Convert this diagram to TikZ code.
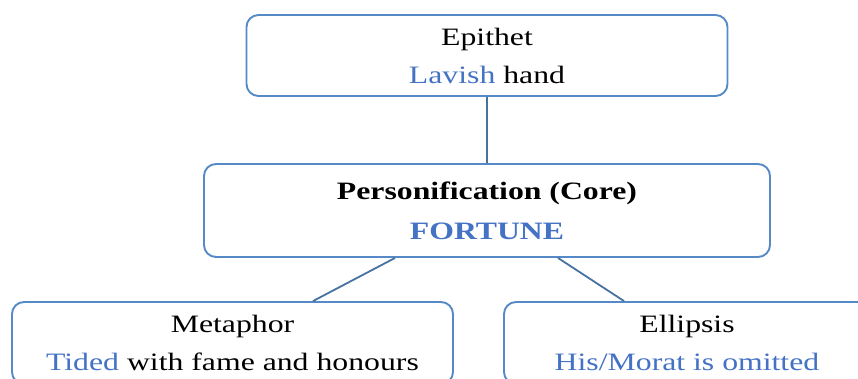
\documentclass[tikz,border=0pt]{standalone}
\usepackage{fontspec}
\setmainfont[FakeStretch=1.27]{Liberation Serif}
\definecolor{boxline}{RGB}{86,138,198}
\definecolor{linkline}{RGB}{70,114,160}
\definecolor{wordblue}{RGB}{68,114,196}
\begin{document}
\begin{tikzpicture}[
    x=1pt, y=-1pt,
    every node/.style={font=\fontsize{25}{38}\selectfont, align=center},
    device/.style={draw=boxline, line width=1.9pt, rounded corners=12pt,
                   fill=white, inner sep=0pt, minimum width=#1},
    link/.style={draw=linkline, line width=1.8pt},
  ]
    % Canvas in pixels (y runs down)
    \useasboundingbox (0,0) rectangle (858,378);
    \clip (0,0) rectangle (858,378);

    % Figures of speech
    \node[device=481pt, minimum height=81pt] (epithet) at (487,55.5)
      {Epithet\\\textcolor{wordblue}{Lavish} hand};
    \node[device=566pt, minimum height=93pt] (core) at (487,210.5)
      {\textbf{Personification (Core)}\\[2pt]\textcolor{wordblue}{\textbf{FORTUNE}}};
    \node[device=441pt, minimum height=82pt] (metaphor) at (232.5,343)
      {Metaphor\\\textcolor{wordblue}{Tided} with fame and honours};
    \node[device=366pt, minimum height=82pt] (ellipsis) at (687,343)
      {Ellipsis\\\textcolor{wordblue}{His/Morat is omitted}};

    % Connectors
    \draw[link] (epithet.south) -- (core.north);
    \draw[link] ([xshift=-92pt]core.south) -- ([xshift=80.5pt]metaphor.north);
    \draw[link] ([xshift=71pt]core.south) -- ([xshift=-63pt]ellipsis.north);

  \end{tikzpicture}
\end{document}
